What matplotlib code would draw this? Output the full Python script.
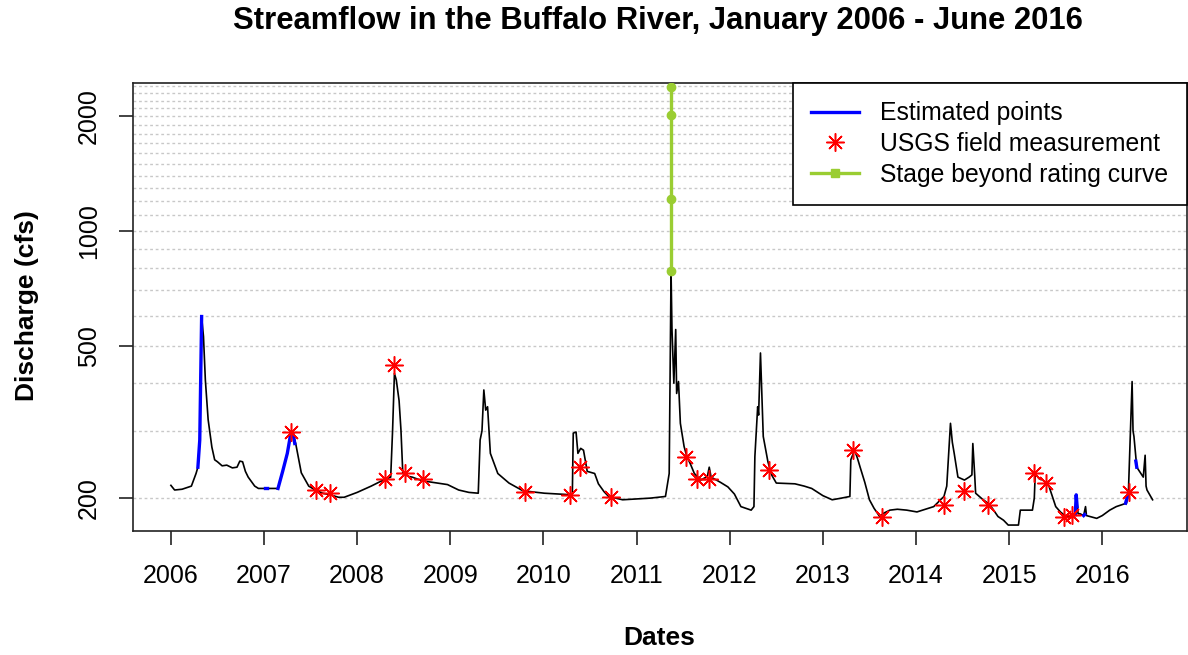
import matplotlib
matplotlib.use("Agg")
import matplotlib.pyplot as plt
from matplotlib.lines import Line2D
from matplotlib.ticker import NullLocator

plt.rcParams['font.family'] = ['Liberation Sans', 'DejaVu Sans']

# daily discharge (decimal year, cfs)
flow_years = [
    2006.00, 2006.04, 2006.12, 2006.22, 2006.27, 2006.29, 2006.31, 2006.33, 2006.35, 2006.37,
    2006.40, 2006.44, 2006.47, 2006.50, 2006.55, 2006.60, 2006.66, 2006.71, 2006.74, 2006.77,
    2006.80, 2006.83, 2006.90, 2006.94, 2007.02, 2007.13, 2007.15, 2007.20, 2007.25, 2007.29,
    2007.31, 2007.34, 2007.40, 2007.48, 2007.55, 2007.63, 2007.71, 2007.80, 2007.86, 2008.00,
    2008.15, 2008.28, 2008.36, 2008.38, 2008.40, 2008.42, 2008.45, 2008.47, 2008.49, 2008.55,
    2008.59, 2008.70, 2008.86, 2008.97, 2009.09, 2009.20, 2009.30, 2009.32, 2009.34, 2009.36,
    2009.38, 2009.40, 2009.43, 2009.51, 2009.63, 2009.78, 2010.01, 2010.15, 2010.28, 2010.31,
    2010.32, 2010.35, 2010.37, 2010.40, 2010.43, 2010.47, 2010.55, 2010.59, 2010.65, 2010.70,
    2010.85, 2011.00, 2011.15, 2011.31, 2011.35, 2011.37, 2011.38, 2011.40, 2011.42, 2011.43,
    2011.45, 2011.47, 2011.51, 2011.54, 2011.58, 2011.62, 2011.69, 2011.76, 2011.78, 2011.80,
    2011.90, 2011.98, 2012.05, 2012.12, 2012.23, 2012.26, 2012.27, 2012.30, 2012.31, 2012.33,
    2012.36, 2012.41, 2012.45, 2012.50, 2012.70, 2012.80, 2012.88, 2013.00, 2013.10, 2013.20,
    2013.29, 2013.30, 2013.34, 2013.37, 2013.40, 2013.45, 2013.50, 2013.55, 2013.61, 2013.66,
    2013.72, 2013.80, 2013.90, 2014.01, 2014.10, 2014.19, 2014.30, 2014.33, 2014.34, 2014.37,
    2014.39, 2014.41, 2014.45, 2014.52, 2014.57, 2014.60, 2014.61, 2014.63, 2014.64, 2014.70,
    2014.77, 2014.82, 2014.88, 2014.94, 2014.99, 2015.05, 2015.10, 2015.12, 2015.20, 2015.25,
    2015.27, 2015.28, 2015.32, 2015.36, 2015.40, 2015.43, 2015.47, 2015.50, 2015.55, 2015.61,
    2015.68, 2015.71, 2015.72, 2015.74, 2015.76, 2015.80, 2015.82, 2015.83, 2015.94, 2016.00,
    2016.08, 2016.15, 2016.26, 2016.28, 2016.30, 2016.32, 2016.33, 2016.34, 2016.37, 2016.40,
    2016.44, 2016.46, 2016.47, 2016.48, 2016.54,
]
flow_cfs = [
    216, 210, 211, 215, 232, 241, 284, 598, 530, 408,
    321, 272, 252, 249, 243, 244, 240, 241, 250, 249,
    235, 227, 215, 212, 212, 212, 212, 235, 262, 298,
    296, 278, 233, 215, 210, 206, 204, 201, 201, 207,
    215, 223, 227, 300, 424, 408, 360, 302, 232, 228,
    227, 222, 219, 217, 210, 207, 206, 284, 300, 384,
    340, 347, 262, 232, 219, 209, 206, 205, 204, 204,
    296, 298, 262, 270, 267, 235, 232, 218, 208, 202,
    198, 199, 200, 202, 232, 785, 553, 400, 553, 376,
    404, 314, 273, 257, 245, 232, 223, 228, 241, 227,
    220, 214, 205, 190, 186, 190, 257, 347, 330, 480,
    290, 249, 230, 219, 218, 215, 212, 203, 198, 200,
    202, 252, 267, 255, 241, 220, 198, 188, 179, 183,
    186, 187, 186, 184, 187, 190, 202, 215, 237, 314,
    280, 262, 227, 223, 227, 230, 278, 230, 206, 200,
    194, 188, 179, 175, 170, 170, 170, 186, 186, 186,
    200, 232, 225, 223, 219, 214, 200, 190, 184, 179,
    180, 181, 204, 182, 182, 180, 190, 180, 177, 180,
    186, 190, 194, 206, 290, 404, 300, 290, 241, 235,
    227, 259, 215, 210, 198,
]

# estimated stretches (drawn in blue over the record)
est_segments = [
    ([2006.29, 2006.31, 2006.33], [241, 284, 598]),
    ([2007.01, 2007.03], [212, 212]),
    ([2007.15, 2007.20, 2007.25, 2007.29, 2007.31, 2007.33], [212, 235, 262, 298, 296, 278]),
    ([2015.71, 2015.72, 2015.73], [181, 204, 190]),
    ([2015.80, 2015.81], [180, 181]),
    ([2016.25, 2016.28], [194, 206]),
    ([2016.36, 2016.37], [250, 241]),
]

# USGS field measurements
usgs_years = [2007.29, 2007.56, 2007.71, 2008.30, 2008.40, 2008.51, 2008.71, 2009.80, 2010.28,
              2010.39, 2010.73, 2011.53, 2011.65, 2011.78, 2012.42, 2013.32, 2013.63, 2014.30,
              2014.52, 2014.77, 2015.27, 2015.40, 2015.59, 2015.68, 2016.29]
usgs_cfs = [298, 210, 206, 224, 446, 233, 224, 208, 204,
            241, 201, 257, 225, 225, 237, 268, 178, 192,
            209, 192, 233, 219, 178, 181, 208]

# stage beyond rating curve (May 2011)
stage_years = [2011.37, 2011.37, 2011.37, 2011.37]
stage_cfs = [785, 1216, 2016, 2388]

grid_levels = list(range(200, 2500, 100))
y_ticks = [200, 500, 1000, 2000]
x_ticks = list(range(2006, 2017))

fig = plt.figure(figsize=(11.88, 6.55), dpi=100)
ax = fig.add_axes([0.1117, 0.1893, 0.8875, 0.6844])

for g in grid_levels:
    ax.axhline(g, color='#c8c8c8', linestyle=(0, (2, 2)), linewidth=1, zorder=0)

ax.plot(flow_years, flow_cfs, color='black', linewidth=1.2, zorder=2)
for yrs, vals in est_segments:
    ax.plot(yrs, vals, color='blue', linewidth=2.4, zorder=3)
ax.plot(stage_years, stage_cfs, color='#9acd32', linewidth=2.4, marker='o', markersize=6, zorder=4)
ax.plot(usgs_years, usgs_cfs, linestyle='none', marker=(8, 2, 0), markersize=13,
        markeredgewidth=1.1, color='red', zorder=5)

ax.set_yscale('log')
ax.set_ylim(164, 2450)
ax.set_xlim(2005.59, 2016.91)
ax.yaxis.set_minor_locator(NullLocator())
ax.set_yticks(y_ticks)
ax.set_yticklabels([str(v) for v in y_ticks], rotation=90, va='center')
ax.set_xticks(x_ticks)
ax.set_xticklabels([str(v) for v in x_ticks])
ax.tick_params(axis='both', length=10, width=1.2, labelsize=18, color='#222222')
ax.tick_params(axis='x', pad=14)
ax.tick_params(axis='y', pad=13)
for s in ax.spines.values():
    s.set_color('#222222')
    s.set_linewidth(1.2)

fig.text(658 / 1188, 1 - 21 / 655, 'Streamflow in the Buffalo River, January 2006 - June 2016',
         ha='center', va='center', fontsize=22.3, fontweight='bold')
fig.text(659 / 1188, 1 - 638 / 655, 'Dates', ha='center', va='center', fontsize=19, fontweight='bold')
fig.text(27 / 1188, 1 - 306 / 655, 'Discharge (cfs)', ha='center', va='center',
         rotation=90, fontsize=19, fontweight='bold')

handles = [
    Line2D([], [], color='blue', linewidth=2.4),
    Line2D([], [], color='red', linestyle='none', marker=(8, 2, 0), markersize=13, markeredgewidth=1.1),
    Line2D([], [], color='#9acd32', linewidth=2.4, marker='s', markersize=6),
]
labels = ['Estimated points', 'USGS field measurement', 'Stage beyond rating curve']
leg = ax.legend(handles, labels, loc='upper right', borderaxespad=0, fontsize=17.8,
                fancybox=False, framealpha=1, edgecolor='black', handlelength=1.95,
                labelspacing=0.27, borderpad=0.75, handletextpad=0.85)
leg.get_frame().set_linewidth(1.2)

fig.savefig('out.png', dpi=100)
